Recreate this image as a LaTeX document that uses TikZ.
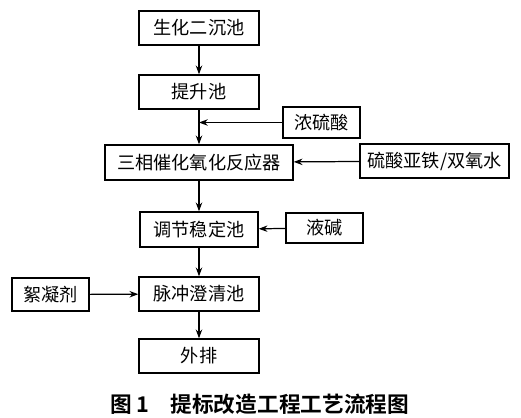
\documentclass[tikz,border=0pt]{standalone}
\usepackage{fontspec}
\setmainfont{Noto Sans CJK SC}
\newfontfamily\capfont{Noto Sans CJK SC Bold}
\usetikzlibrary{arrows.meta}
\begin{document}
\begin{tikzpicture}[x=0.03cm,y=-0.03cm,
  bx/.style={draw, line width=1.2pt, inner sep=0pt, font=\fontsize{15.5}{15.5}\selectfont},
  arr/.style={line width=1.05pt, -{Stealth[length=7.5pt,width=5.5pt]}}]
\useasboundingbox (0,0) rectangle (521,418);
\node[bx, minimum width=3.6cm, minimum height=1.02cm] (b1) at (199,28) {生化二沉池};
\node[bx, minimum width=3.6cm, minimum height=1.02cm] (b2) at (199,92) {提升池};
\node[bx, minimum width=2.31cm, minimum height=0.93cm] (acid) at (321.5,122.5) {浓硫酸};
\node[bx, minimum width=5.64cm, minimum height=1.05cm] (b3) at (199,162.5) {三相催化氧化反应器};
\node[bx, minimum width=4.47cm, minimum height=1.02cm] (fe) at (434.5,161) {硫酸亚铁/双氧水};
\node[bx, minimum width=3.54cm, minimum height=1.05cm] (b4) at (199,229.5) {调节稳定池};
\node[bx, minimum width=2.31cm, minimum height=0.9cm] (jian) at (324.5,228) {液碱};
\node[bx, minimum width=2.31cm, minimum height=0.99cm] (floc) at (50.5,294.5) {絮凝剂};
\node[bx, minimum width=3.6cm, minimum height=1.02cm] (b5) at (199,294) {脉冲澄清池};
\node[bx, minimum width=3.6cm, minimum height=1.02cm] (b6) at (199,356) {外排};
\node[font=\capfont\fontsize{18.5}{18.5}\selectfont] (cap) at (260,404) {图\,1\hspace{1em}提标改造工程工艺流程图};
\draw[arr] (b1) -- (b2);
\draw[arr] (b2) -- (b3);
\draw[arr] (acid.west) -- (acid.west -| b2.south);
\draw[arr] (fe) -- (b3);
\draw[arr] (b3) -- (b4);
\draw[arr] (jian) -- (b4);
\draw[arr] (b4) -- (b5);
\draw[arr] (floc) -- (b5);
\draw[arr] (b5) -- (b6);
\end{tikzpicture}
\end{document}
